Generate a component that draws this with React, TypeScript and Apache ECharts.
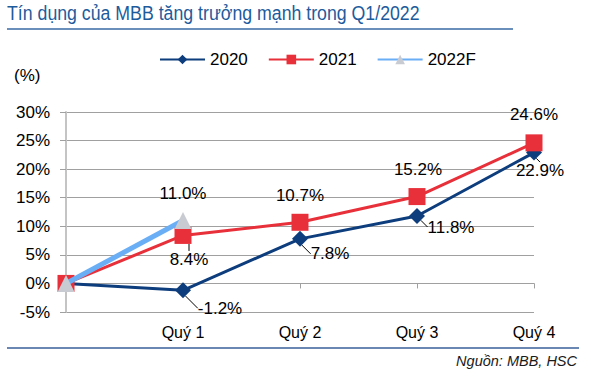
import React, { useEffect, useRef } from "react";
import * as echarts from "echarts";

const categories = ["", "Quý 1", "Quý 2", "Quý 3", "Quý 4"];
const s2020 = [0, -1.2, 7.8, 11.8, 22.9];
const s2021 = [0, 8.4, 10.7, 15.2, 24.6];
const s2022F = [0, 11.0];
const yTicks = { min: -5, max: 30, interval: 5 };

const off2020: [number, number][] = [[0, 0], [37, 18], [30, 15], [34, 11], [6, 18]];
const off2021: [number, number][] = [[0, 0], [6, 24], [0, -27], [1, -27], [0, -28]];
const off2022: [number, number][] = [[0, 0], [0, -27]];
const leader2021 = [false, true, false, false, false];

const FONT = 'Arial, "Liberation Sans", sans-serif';

function withLabels(values: number[], leaders?: boolean[]) {
  return values.map((v, i) => ({
    value: v,
    label: { show: i > 0 },
    labelLine: leaders ? { show: leaders[i] } : undefined,
  }));
}

export default function App() {
  const ref = useRef<HTMLDivElement>(null);
  useEffect(() => {
    if (!ref.current) return;
    const chart = echarts.init(ref.current, null, { renderer: "svg" });
    const labelBase = {
      position: "inside",
      fontFamily: FONT,
      fontSize: 17,
      color: "#000",
      formatter: (p: any) => `${Number(p.value).toFixed(1)}%`,
    };
    const layoutFor = (offs: [number, number][]) => (p: any) => ({
      dx: offs[p.dataIndex][0],
      dy: offs[p.dataIndex][1],
    });
    chart.setOption({
      animation: false,
      backgroundColor: "#fff",
      textStyle: { fontFamily: FONT },
      grid: { left: 66, right: 57, top: 112, bottom: 64 },
      legend: {
        top: 46,
        left: 154,
        itemWidth: 45,
        itemHeight: 12,
        itemGap: 20,
        textStyle: { fontFamily: FONT, fontSize: 17, color: "#000" },
        data: ["2020", "2021", "2022F"],
      },
      xAxis: [
        {
          type: "category",
          data: categories,
          boundaryGap: false,
          position: "bottom",
          axisLine: { show: true, onZero: true, lineStyle: { color: "#a0a0a0", width: 1 } },
          axisTick: {
            show: true,
            length: 5,
            interval: 0,
            lineStyle: { color: "#a0a0a0" },
          },
          axisLabel: { show: false },
          splitLine: { show: false },
        },
        {
          type: "category",
          data: categories,
          boundaryGap: false,
          position: "bottom",
          axisLine: { show: false, onZero: false },
          axisTick: { show: false },
          axisLabel: { show: true, fontFamily: FONT, fontSize: 16, color: "#000", margin: 12 },
          splitLine: { show: false },
        },
      ],
      yAxis: {
        type: "value",
        min: yTicks.min,
        max: yTicks.max,
        interval: yTicks.interval,
        axisLine: { show: true, lineStyle: { color: "#c4c4c4", width: 2 } },
        axisTick: { show: true, length: 6, lineStyle: { color: "#a0a0a0" } },
        axisLabel: {
          fontFamily: FONT,
          fontSize: 17,
          color: "#000",
          margin: 16,
          formatter: (v: number) => `${v}%`,
        },
        splitLine: { show: true, lineStyle: { color: "#a0a0a0", width: 1 } },
      },
      series: [
        {
          name: "2020",
          type: "line",
          data: withLabels(s2020),
          symbol: "diamond",
          symbolSize: 16,
          color: "#0d3d7d",
          lineStyle: { width: 3, color: "#0d3d7d" },
          itemStyle: { color: "#0d3d7d" },
          label: labelBase,
          labelLayout: layoutFor(off2020),
          labelLine: { show: true, lineStyle: { color: "#000", width: 1 } },
          z: 2,
        },
        {
          name: "2021",
          type: "line",
          data: withLabels(s2021, leader2021),
          symbol: "rect",
          symbolSize: 17,
          color: "#e8303a",
          lineStyle: { width: 3, color: "#e8303a" },
          itemStyle: { color: "#e8303a" },
          label: labelBase,
          labelLayout: layoutFor(off2021),
          labelLine: { show: false, lineStyle: { color: "#000", width: 1 } },
          z: 3,
        },
        {
          name: "2022F",
          type: "line",
          data: withLabels(s2022F),
          symbol: "triangle",
          symbolSize: 17,
          color: "#6aaef5",
          lineStyle: { width: 5, color: "#6aaef5" },
          itemStyle: { color: "#c9cbd3" },
          label: labelBase,
          labelLayout: layoutFor(off2022),
          z: 4,
        },
      ],
      graphic: [
        {
          type: "text",
          left: 7,
          top: 3,
          style: {
            text: "Tín dụng của MBB tăng trưởng mạnh trong Q1/2022",
            fontFamily: FONT,
            fontSize: 18,
            fill: "#1d5b9c",
          },
          scaleX: 0.985,
          scaleY: 1.1,
        },
        {
          type: "line",
          shape: { x1: 7, y1: 29, x2: 513, y2: 29 },
          style: { stroke: "#3a6aa5", lineWidth: 1.5 },
        },
        {
          type: "text",
          left: 14,
          top: 67,
          style: { text: "(%)", fontFamily: FONT, fontSize: 17, fill: "#000" },
        },
        {
          type: "line",
          shape: { x1: 7, y1: 348, x2: 579, y2: 348 },
          style: { stroke: "#6a86b3", lineWidth: 2 },
        },
        {
          type: "text",
          right: 14,
          top: 353,
          style: {
            text: "Nguồn: MBB, HSC",
            fontFamily: FONT,
            fontSize: 14.5,
            fontStyle: "italic",
            fill: "#1a1a1a",
          },
        },
      ],
    });
    return () => chart.dispose();
  }, []);
  return (
    <div
      ref={ref}
      style={{ position: "fixed", left: 0, top: 0, width: 591, height: 376 }}
    />
  );
}
